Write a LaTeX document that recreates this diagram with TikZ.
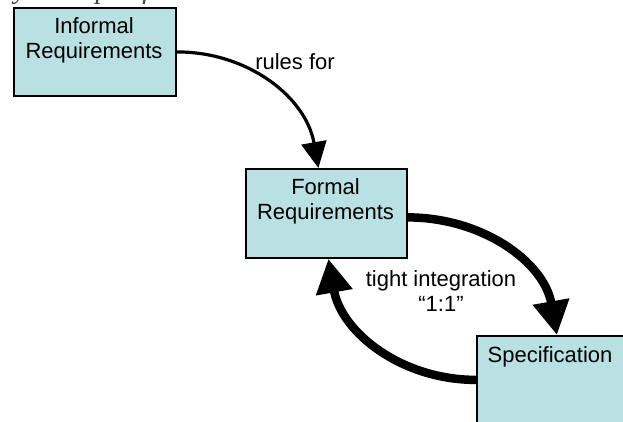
\documentclass[tikz,border=0pt]{standalone}
\usepackage{fontspec}
\setmainfont{Liberation Sans}
\newfontfamily\capfont{Liberation Serif}
\usetikzlibrary{arrows.meta}
\definecolor{boxfill}{RGB}{185,224,227}
\begin{document}
\begin{tikzpicture}[x=1pt,y=-1pt,
  box/.style={draw=black, line width=1.8pt, fill=boxfill, inner sep=0pt, anchor=north west},
  lbl/.style={font=\fontsize{22}{25.5}\selectfont, align=center, inner sep=0pt, anchor=north},
  thinarrow/.style={line width=3.2pt, -{Triangle[length=26pt,width=25pt]}},
  thickarrow/.style={line width=8.5pt, -{Triangle[length=34pt,width=35pt]}}]
\useasboundingbox (0,0) rectangle (623,422);
\clip (0,0) rectangle (623,422);
% cropped caption
\node[font=\capfont\itshape\fontsize{28}{30}\selectfont, text=black!75, anchor=base west, inner sep=0pt] (cap) at (3,-1) {system specification};
% boxes
\node[box, minimum width=162pt, minimum height=88pt] (inf) at (13,7) {};
\node[box, minimum width=161pt, minimum height=89pt] (form) at (245,168) {};
\node[box, minimum width=148pt, minimum height=88pt] (spec) at (476,335) {};
% box texts
\node[lbl] (inftxt) at (94,17) {Informal\\Requirements};
\node[lbl] (formtxt) at (325.5,178) {Formal\\Requirements};
\node[lbl] (spectxt) at (550,346) {Specification};
% connectors
\draw[thinarrow] (inf.east) to[out=0,in=100] ([xshift=-8pt]form.north);
\draw[thickarrow] ([yshift=-4pt]form.east) to[out=0,in=100] ([xshift=6pt]spec.north);
\draw[thickarrow] (spec.west) to[out=180,in=-80] ([xshift=2pt]form.south);
% labels
\node[lbl] (rules) at (295,53) {rules for};
\node[lbl] (tight) at (441,270) {tight integration\\“1:1”};
\end{tikzpicture}
\end{document}
